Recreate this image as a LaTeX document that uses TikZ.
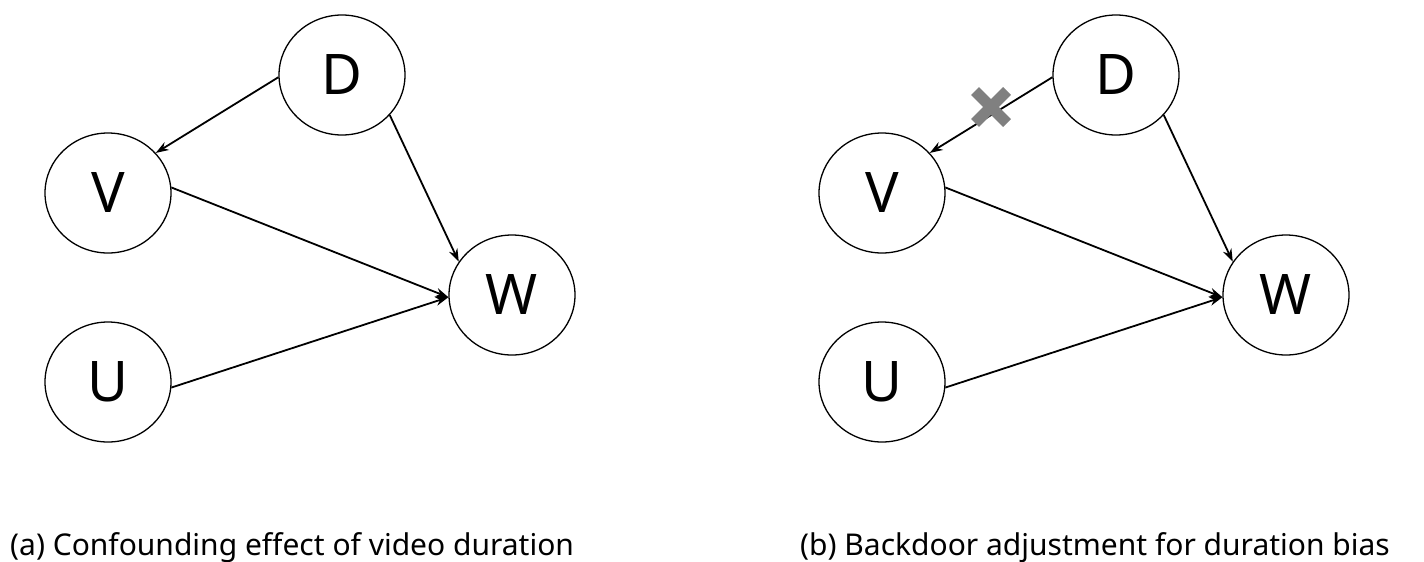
\documentclass[tikz,border=0pt]{standalone}
\usepackage{fontspec}
\setmainfont{Noto Sans}
\usetikzlibrary{arrows.meta,shapes.geometric}
\begin{document}
\begin{tikzpicture}[x=1pt,y=-1pt,
  var/.style={draw,line width=1.3pt,ellipse,minimum width=126pt,minimum height=120pt,inner sep=0pt,font=\fontsize{56}{60}\selectfont},
  arr/.style={line width=1.8pt,-{Stealth[length=13pt,width=9pt]}},
  captext/.style={anchor=west,inner sep=0pt,font=\fontsize{30}{32}\selectfont}]
\useasboundingbox (0,0) rectangle (1424,562);
\foreach \o/\p in {0/a,774/b}{
  \node[var] (D\p) at (342+\o,75) {D};
  \node[var] (V\p) at (108+\o,193) {V};
  \node[var] (U\p) at (108+\o,382) {U};
  \node[var] (W\p) at (512+\o,295) {W};
  \draw[arr] (D\p.182) -- (V\p.40);
  \draw[arr] (D\p.-40) -- (W\p.148);
  \draw[arr] (V\p.5) -- (W\p.182);
  \draw[arr] (U\p.-5) -- (W\p.182);
}
\node[captext] (ca) at (10,548) {(a) Confounding effect of video duration};
\node[captext] (cb) at (800,548) {(b) Backdoor adjustment for duration bias};
\coordinate (x) at (991,107);
\draw[gray,line width=11pt] ([shift={(-16,-16)}]x) -- ([shift={(16,16)}]x) ([shift={(-16,16)}]x) -- ([shift={(16,-16)}]x);
\end{tikzpicture}
\end{document}
